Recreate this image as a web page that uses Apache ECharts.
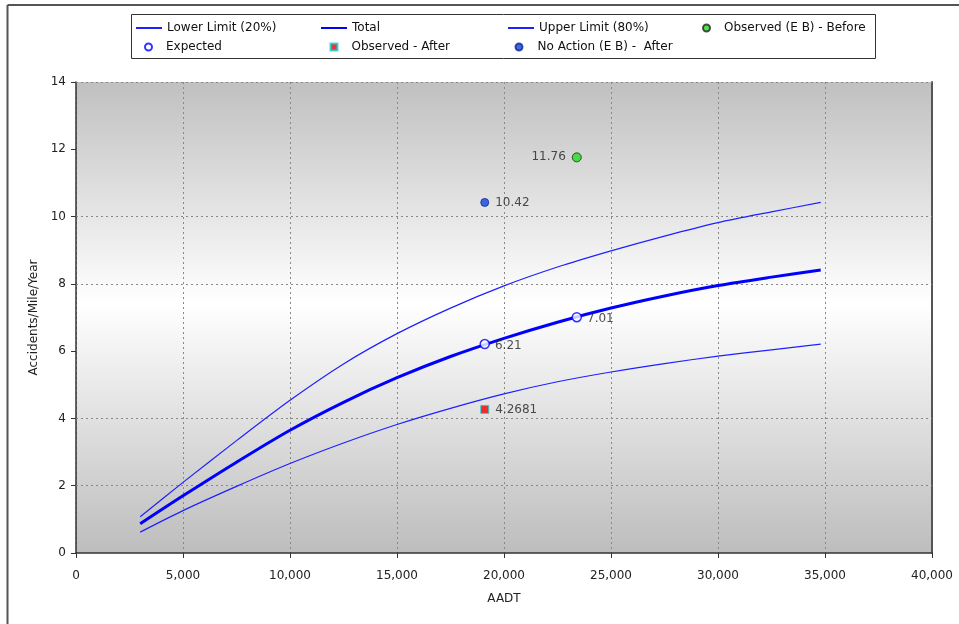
<!DOCTYPE html>
<html>
<head>
<meta charset="utf-8">
<script src="https://cdn.jsdelivr.net/npm/echarts@6/dist/echarts.min.js"></script>
<style>
html,body{margin:0;padding:0;background:#fff;}
#chart{width:959px;height:624px;}
</style>
</head>
<body>
<div id="chart"></div>
<script>
// ---- data ----
const aadt        = [3000, 5000, 7500, 10000, 12500, 15000, 17500, 20000, 22500, 25000, 27500, 30000, 32500, 34800];
const lowerLimit  = [0.62, 1.26, 1.98, 2.66, 3.27, 3.82, 4.30, 4.73, 5.09, 5.38, 5.63, 5.85, 6.04, 6.21];
const totalVals   = [0.87, 1.70, 2.70, 3.65, 4.48, 5.21, 5.84, 6.38, 6.86, 7.28, 7.64, 7.95, 8.20, 8.41];
const upperLimit  = [1.08, 2.10, 3.34, 4.54, 5.62, 6.52, 7.28, 7.94, 8.50, 8.98, 9.42, 9.82, 10.14, 10.42];
const observedBefore = [[23400, 11.76]];
const expectedPts    = [[19100, 6.21], [23400, 7.01]];
const observedAfter  = [[19100, 4.2681]];
const noActionAfter  = [[19100, 10.42]];
const yGridValues = [2, 4, 8, 10, 14];
const seriesNames = ['Lower Limit (20%)', 'Total', 'Upper Limit (80%)', 'Observed (E B) - Before',
                     'Expected', 'Observed - After', 'No Action (E B) -  After'];

const FONT = 'DejaVu Sans';
const pair = (xs, ys) => xs.map((x, i) => [x, ys[i]]);

const chart = echarts.init(document.getElementById('chart'), null, {renderer: 'canvas'});

function lineLegend(name, left, top) {
  return {
    data: [name], left: left, top: top, padding: 0,
    itemWidth: 26, itemHeight: 1, itemGap: 0, selectedMode: false,
    itemStyle: {color: 'rgba(0,0,0,0)', borderColor: 'rgba(0,0,0,0)', borderWidth: 0},
    textStyle: {fontFamily: FONT, fontSize: 12, color: '#111'}
  };
}
function symLegend(name, left, top, pad) {
  return {
    data: [name], left: left, top: top, padding: 0,
    itemWidth: 7, itemHeight: 7, itemGap: 0, selectedMode: false,
    textStyle: {fontFamily: FONT, fontSize: 12, color: '#111', padding: [0, 0, 0, pad]}
  };
}

const option = {
  animation: false,
  backgroundColor: '#fff',
  textStyle: {fontFamily: FONT},
  graphic: [
    {type: 'line', shape: {x1: 7.5, y1: 5, x2: 959, y2: 5}, style: {stroke: '#555', lineWidth: 2}, z: 100},
    {type: 'line', shape: {x1: 7.5, y1: 5, x2: 7.5, y2: 624}, style: {stroke: '#555', lineWidth: 2}, z: 100},
    {type: 'rect', shape: {x: 131.5, y: 14.5, width: 744, height: 44}, style: {fill: '#fff', stroke: '#333', lineWidth: 1}, z: -1}
  ],
  legend: [
    lineLegend(seriesNames[0], 135, 22),
    lineLegend(seriesNames[1], 320, 22),
    lineLegend(seriesNames[2], 507, 22),
    symLegend(seriesNames[3], 702, 22, 9),
    symLegend(seriesNames[4], 144, 41, 9),
    symLegend(seriesNames[5], 329.5, 41, 9),
    symLegend(seriesNames[6], 514.5, 41, 10)
  ],
  grid: {
    left: 76, right: 27, top: 82, bottom: 71,
    show: true,
    borderWidth: 0,
    backgroundColor: new echarts.graphic.LinearGradient(0, 0, 0, 1, [
      {offset: 0, color: '#c0c0c0'},
      {offset: 0.47, color: '#ffffff'},
      {offset: 1, color: '#bdbdbd'}
    ])
  },
  xAxis: {
    type: 'value', min: 0, max: 40000, interval: 5000,
    name: 'AADT', nameLocation: 'middle', nameGap: 40,
    nameTextStyle: {fontFamily: FONT, fontSize: 12, color: '#222'},
    axisLine: {show: true, lineStyle: {color: '#333', width: 1.5}},
    axisTick: {show: true, length: 5, lineStyle: {color: '#333'}},
    axisLabel: {margin: 17, fontFamily: FONT, fontSize: 12, color: '#222',
      formatter: v => v.toLocaleString('en-US')},
    splitLine: {show: true, lineStyle: {color: '#888', type: [2, 3], width: 1}}
  },
  yAxis: [{
    type: 'value', min: 0, max: 14, interval: 2,
    name: 'Accidents/Mile/Year', nameLocation: 'middle', nameGap: 24,
    nameTextStyle: {fontFamily: FONT, fontSize: 12, color: '#222'},
    axisLine: {show: true, lineStyle: {color: '#333', width: 1.5}},
    axisTick: {show: true, length: 5, lineStyle: {color: '#333'}},
    axisLabel: {margin: 10, fontFamily: FONT, fontSize: 12, color: '#222'},
    splitLine: {show: false}
  }, {
    type: 'value', min: 0, max: 14, interval: 2, position: 'right',
    axisLine: {show: true, onZero: false, lineStyle: {color: '#555', width: 2}},
    axisTick: {show: false}, axisLabel: {show: false}, splitLine: {show: false}
  }],
  series: [
    {
      name: seriesNames[0], type: 'line', data: pair(aadt, lowerLimit), smooth: 0.3,
      symbol: 'none', lineStyle: {color: '#2020ff', width: 1.2}, itemStyle: {color: '#2020ff'}, z: 3
    },
    {
      name: seriesNames[1], type: 'line', data: pair(aadt, totalVals), smooth: 0.3,
      symbol: 'none', lineStyle: {color: '#0000ff', width: 3}, itemStyle: {color: '#0000ff'}, z: 4,
      markLine: {
        silent: true, symbol: 'none', label: {show: false},
        lineStyle: {color: '#888', type: [2, 3], width: 1},
        data: yGridValues.map(v => ({yAxis: v})),
        z: 1
      }
    },
    {
      name: seriesNames[2], type: 'line', data: pair(aadt, upperLimit), smooth: 0.3,
      symbol: 'none', lineStyle: {color: '#2020ff', width: 1.2}, itemStyle: {color: '#2020ff'}, z: 3
    },
    {
      name: seriesNames[3], type: 'scatter', data: observedBefore, symbol: 'circle', symbolSize: 9,
      itemStyle: {color: '#22dd22', borderColor: '#222', borderWidth: 1}, z: 6,
      label: {show: true, position: 'left', distance: 6, fontFamily: FONT, fontSize: 12, color: '#222',
        formatter: p => String(p.value[1])}
    },
    {
      name: seriesNames[4], type: 'scatter', data: expectedPts, symbol: 'circle', symbolSize: 9,
      itemStyle: {color: '#ffffff', borderColor: '#0000ff', borderWidth: 1.5}, z: 6,
      label: {show: true, position: 'right', distance: 5, offset: [0, 2], fontFamily: FONT, fontSize: 12, color: '#222',
        formatter: p => String(p.value[1])}
    },
    {
      name: seriesNames[5], type: 'scatter', data: observedAfter, symbol: 'rect', symbolSize: 8,
      itemStyle: {color: '#ee0000', borderColor: '#00e0e0', borderWidth: 1}, z: 6,
      label: {show: true, position: 'right', distance: 6, fontFamily: FONT, fontSize: 12, color: '#222',
        formatter: p => String(p.value[1])}
    },
    {
      name: seriesNames[6], type: 'scatter', data: noActionAfter, symbol: 'circle', symbolSize: 8,
      itemStyle: {color: '#1444e0', borderColor: '#0a2a90', borderWidth: 1}, z: 6,
      label: {show: true, position: 'right', distance: 6, fontFamily: FONT, fontSize: 12, color: '#222',
        formatter: p => String(p.value[1])}
    }
  ]
};
chart.setOption(option);
</script>
</body>
</html>
